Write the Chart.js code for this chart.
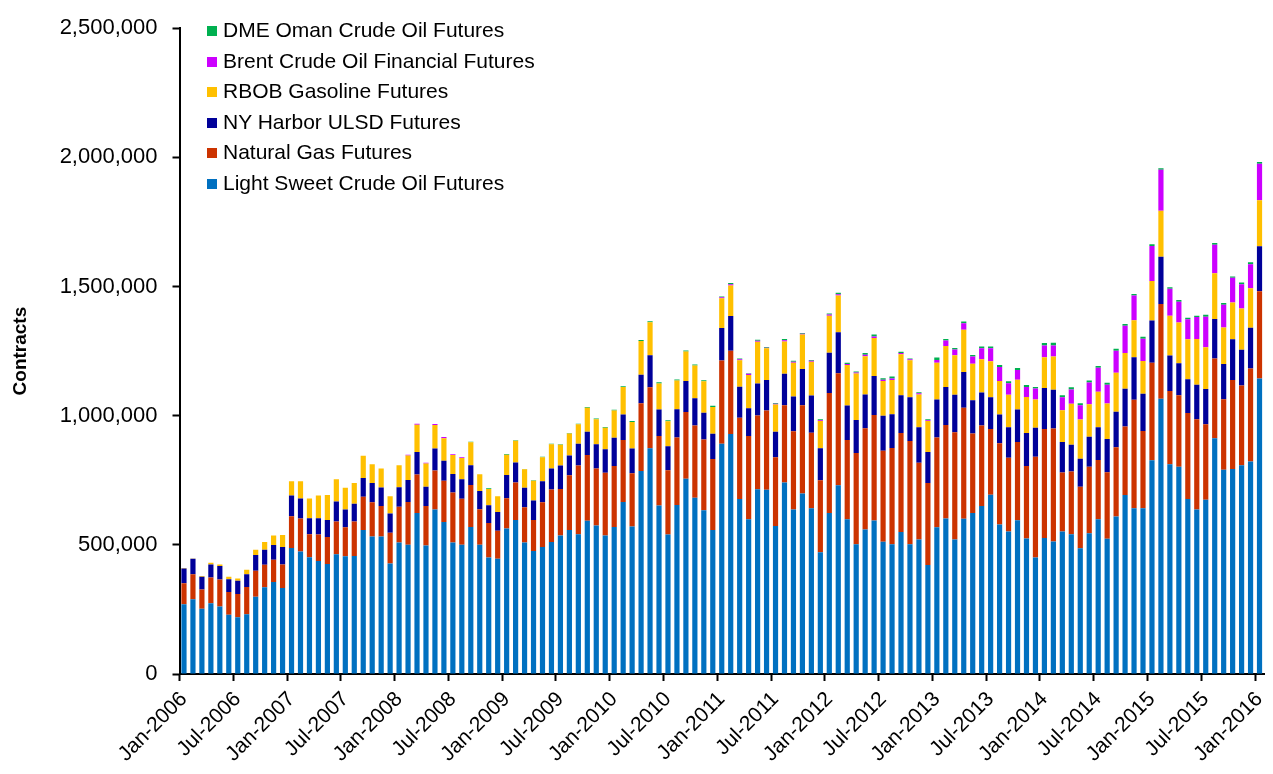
<!DOCTYPE html>
<html>
<head>
<meta charset="utf-8">
<script src="https://cdn.jsdelivr.net/npm/chart.js@4.4.1/dist/chart.umd.min.js"></script>
<style>
  html, body { margin: 0; padding: 0; background: #fff; }
  .wrap { position: relative; width: 1273px; height: 774px; }
  .legend { position: absolute; left: 207px; top: 15px; font-family: 'Liberation Sans', Arial, sans-serif; font-size: 21px; color: #000; }
  .legend div { height: 30.5px; line-height: 30.5px; white-space: nowrap; }
  .legend span { display: inline-block; width: 10px; height: 10px; margin-right: 6px; vertical-align: 1px; }
</style>
</head>
<body>
<div class="wrap">
  <canvas id="chart"></canvas>
  <div class="legend" id="legend"></div>
</div>
<script>
// monthly futures volume, thousand contracts, Jan-2006 .. Jan-2016
const MONTHS = ['Jan','Feb','Mar','Apr','May','Jun','Jul','Aug','Sep','Oct','Nov','Dec'];
const categories = [];
for (let i = 0; i < 121; i++) categories.push(MONTHS[i % 12] + '-' + (2006 + Math.floor(i / 12)));

const lightSweet = [
  270,289,253,274,261,229,220,231,299,336,356,333,
  488,474,452,437,426,464,456,457,557,532,532,428,
  509,500,623,497,637,588,509,500,569,500,451,446,
  563,596,509,476,492,511,536,557,541,593,575,536,
  569,666,571,786,874,652,540,654,756,682,634,557,
  891,929,677,599,715,713,573,741,637,699,642,471,
  623,731,599,502,559,594,512,502,550,502,521,422,
  568,602,521,601,623,650,694,579,552,595,525,451,
  526,513,552,541,487,545,599,524,610,693,642,642,
  827,1066,812,802,677,637,675,913,791,794,808,823,
  1144
];
const naturalGas = [
  81,97,74,100,105,88,90,106,101,87,86,91,
  123,128,89,103,104,126,112,133,129,133,118,119,
  138,166,149,153,151,160,194,178,163,138,134,109,
  117,145,137,120,173,203,180,212,266,255,221,243,
  236,240,206,262,236,269,249,262,258,280,274,275,
  323,322,315,322,286,307,266,299,303,341,292,279,
  465,433,307,354,392,409,352,373,383,400,297,317,
  348,362,415,430,308,312,254,314,285,303,280,390,
  422,437,228,243,238,257,229,257,268,265,420,299,
  378,366,284,277,333,349,292,308,273,344,309,360,
  338
];
const nyHarbor = [
  57,60,49,50,52,50,51,49,61,58,57,68,
  80,77,62,63,66,78,69,69,73,74,72,74,
  76,85,87,75,85,78,71,76,76,70,68,72,
  90,78,75,76,81,82,91,77,84,90,93,91,
  110,99,96,110,124,103,93,109,120,105,103,98,
  125,135,120,108,124,118,99,122,134,141,144,124,
  156,159,133,127,131,151,136,131,146,169,137,120,
  147,147,145,138,129,128,123,112,118,126,128,112,
  159,150,118,103,108,116,127,129,137,146,164,144,
  163,183,137,124,131,134,136,153,136,158,138,157,
  174
];
const rbob = [
  2,1,3,7,6,9,9,18,20,30,37,46,
  55,67,76,88,97,86,84,80,86,73,74,67,
  85,95,106,90,91,87,74,82,89,65,63,61,
  79,84,72,76,93,93,80,85,76,93,97,83,
  105,106,103,131,128,101,96,111,114,127,122,104,
  116,118,103,128,161,123,105,125,131,133,131,105,
  143,142,157,180,148,147,134,132,159,144,127,120,
  142,159,153,164,141,128,140,129,126,115,139,110,
  119,129,123,159,152,126,138,137,151,139,143,127,
  153,178,154,158,155,177,162,177,141,142,160,153,
  178
];
const brent = [
  0,0,0,0,0,0,0,0,0,0,0,0,
  0,0,0,0,0,0,0,0,0,0,0,0,
  0,3,4,3,4,4,3,3,0,0,0,0,
  0,0,0,0,0,0,0,0,0,0,0,0,
  0,0,0,0,0,0,0,0,0,0,0,0,
  3,5,3,5,4,2,3,5,4,3,4,3,
  5,5,4,4,6,6,5,6,5,3,5,3,
  11,21,22,25,28,43,50,54,45,38,39,42,
  46,43,50,55,55,84,93,73,85,105,96,86,
  136,159,104,80,77,85,118,111,88,96,94,93,
  141
];
const dmeOman = [
  0,0,0,0,0,0,0,0,0,0,0,0,
  0,0,0,0,0,0,0,0,0,0,0,0,
  0,0,0,0,0,0,0,0,2,0,3,0,
  3,2,1,2,2,2,2,2,2,3,3,3,
  3,3,3,4,4,4,4,4,4,4,4,4,
  3,5,3,2,4,3,3,5,4,3,3,4,
  4,6,5,4,7,7,6,8,4,3,4,4,
  9,6,6,7,6,7,7,8,7,8,8,6,
  9,10,8,9,8,8,6,7,8,7,6,8,
  7,6,6,7,6,5,8,6,7,5,7,8,
  7
];

const yTicks = [0, 500000, 1000000, 1500000, 2000000, 2500000];

// stacking order, bottom first
const series = [
  { label: 'Light Sweet Crude Oil Futures', values: lightSweet, color: '#0070c0' },
  { label: 'Natural Gas Futures', values: naturalGas, color: '#cc3300' },
  { label: 'NY Harbor ULSD Futures', values: nyHarbor, color: '#000099' },
  { label: 'RBOB Gasoline Futures', values: rbob, color: '#ffc000' },
  { label: 'Brent Crude Oil Financial Futures', values: brent, color: '#cc00ff' },
  { label: 'DME Oman Crude Oil Futures', values: dmeOman, color: '#00b050' },
];

const isLabelTick = i => typeof i === 'number' && i < categories.length && i % 6 === 0;

Chart.defaults.font.family = "'Liberation Sans', Arial, sans-serif";
Chart.defaults.color = '#000';

new Chart(document.getElementById('chart'), {
  type: 'bar',
  data: {
    labels: categories,
    datasets: series.map(s => ({
      label: s.label,
      data: s.values.map(v => v * 1000),
      backgroundColor: s.color,
      borderWidth: 0,
      barPercentage: 0.58,
      categoryPercentage: 1.0,
    })),
  },
  options: {
    responsive: true,
    maintainAspectRatio: false,
    animation: false,
    layout: { padding: { top: 19, right: 9, left: 0, bottom: 0 } },
    plugins: { legend: { display: false }, tooltip: { enabled: false } },
    scales: {
      x: {
        stacked: true,
        grid: {
          drawOnChartArea: false,
          offset: true,
          tickLength: 7,
          tickWidth: 2,
          tickColor: ctx => isLabelTick(ctx.index) ? '#000' : 'rgba(0,0,0,0)',
        },
        border: { color: '#000', width: 2 },
        ticks: {
          autoSkip: false,
          minRotation: 45,
          maxRotation: 45,
          padding: 6,
          font: { size: 21 },
          callback: (v, i) => isLabelTick(i) ? categories[i] : '',
        },
        // fixed band under the plot; rotated labels need no side padding
        afterFit: s => { s.height = 100; s.paddingLeft = 0; s.paddingRight = 0; },
      },
      y: {
        stacked: true,
        min: 0,
        max: 2500000,
        afterBuildTicks: s => { s.ticks = yTicks.map(v => ({ value: v })); },
        grid: { drawOnChartArea: false, tickLength: 7, tickWidth: 2, tickColor: '#000' },
        border: { color: '#000', width: 2 },
        ticks: {
          padding: 15,
          font: { size: 22 },
          callback: v => v.toLocaleString('en-US'),
        },
        title: {
          display: true,
          text: 'Contracts',
          font: { size: 19, weight: 'bold' },
          padding: { top: 9, bottom: 0 },
        },
        afterFit: s => { s.width = 179.5; },
      },
    },
  },
});

// legend sits inside the plot, top item is the top of the stack
document.getElementById('legend').innerHTML = series.slice().reverse()
  .map(s => `<div><span style="background:${s.color}"></span>${s.label}</div>`).join('');
</script>
</body>
</html>
